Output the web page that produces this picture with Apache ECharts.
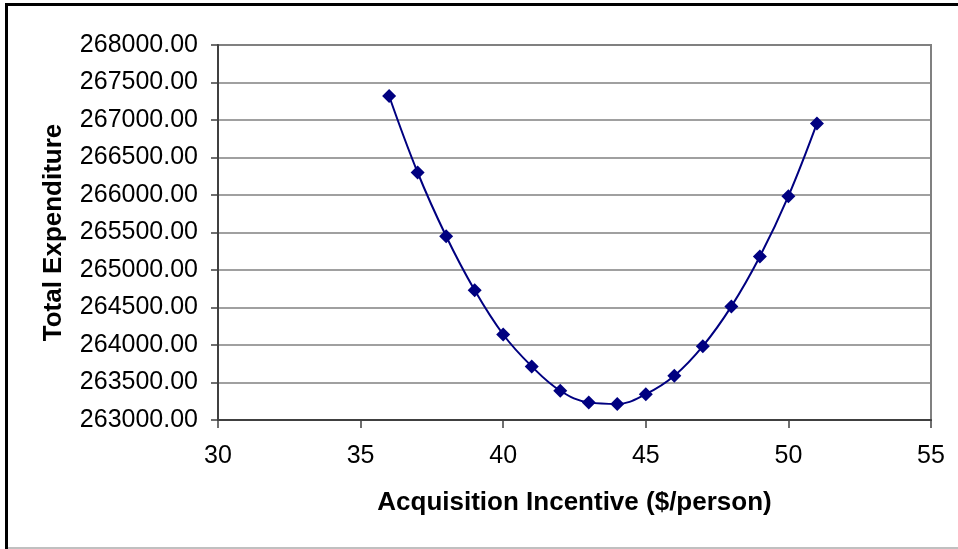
<!DOCTYPE html>
<html>
<head>
<meta charset="utf-8">
<script src="https://cdn.jsdelivr.net/npm/echarts@6/dist/echarts.min.js"></script>
<style>
html,body{margin:0;padding:0;background:#fff;}
#chart{width:958px;height:549px;}
</style>
</head>
<body>
<div id="chart"></div>
<script>
// Data
var incentive = [36, 37, 38, 39, 40, 41, 42, 43, 44, 45, 46, 47, 48, 49, 50, 51];
var expenditure = [267320, 266300, 265450, 264730, 264140, 263715, 263390, 263235, 263215, 263345, 263590, 263985, 264515, 265180, 265985, 266955];
var xTicks = [30, 35, 40, 45, 50, 55];
var yTicks = [263000, 263500, 264000, 264500, 265000, 265500, 266000, 266500, 267000, 267500, 268000];
var xTitle = 'Acquisition Incentive ($/person)';
var yTitle = 'Total Expenditure';

var chart = echarts.init(document.getElementById('chart'), null, {renderer: 'canvas'});
var FONT = '"Liberation Sans", Arial, sans-serif';
var pts = incentive.map(function (x, i) { return [x, expenditure[i]]; });

chart.setOption({
  animation: false,
  backgroundColor: '#ffffff',
  grid: {
    left: 218, right: 27, top: 45, bottom: 129,
    show: true, borderColor: '#808080', borderWidth: 2, backgroundColor: 'transparent'
  },
  xAxis: {
    type: 'value',
    min: xTicks[0], max: xTicks[xTicks.length - 1], interval: 5,
    name: xTitle, nameLocation: 'middle', nameGap: 70,
    nameTextStyle: {fontFamily: FONT, fontSize: 26, fontWeight: 'bold', color: '#000'},
    axisLine: {show: true, onZero: false, lineStyle: {color: '#404040', width: 2}},
    axisTick: {show: true, inside: false, length: 8, lineStyle: {color: '#404040', width: 1.5}},
    axisLabel: {fontFamily: FONT, fontSize: 25, color: '#000', margin: 24},
    splitLine: {show: false}
  },
  yAxis: {
    type: 'value',
    min: yTicks[0], max: yTicks[yTicks.length - 1], interval: 500,
    name: yTitle, nameLocation: 'middle', nameGap: 151,
    nameTextStyle: {fontFamily: FONT, fontSize: 26, fontWeight: 'bold', color: '#000'},
    axisLine: {show: true, onZero: false, lineStyle: {color: '#404040', width: 2}},
    axisTick: {show: true, inside: false, length: 7, lineStyle: {color: '#404040', width: 1.5}},
    axisLabel: {fontFamily: FONT, fontSize: 25, color: '#000', margin: 20,
      formatter: function (v) { return v.toFixed(2); }},
    splitLine: {show: true, lineStyle: {color: '#808080', width: 1.5}}
  },
  series: [{
    type: 'line',
    data: pts,
    smooth: 0.4,
    symbol: 'diamond',
    symbolSize: 14,
    itemStyle: {color: '#000080'},
    lineStyle: {color: '#000080', width: 2}
  }],
  graphic: [
    {type: 'line', shape: {x1: 6.5, y1: 3, x2: 6.5, y2: 549}, style: {stroke: '#000', lineWidth: 3}},
    {type: 'line', shape: {x1: 5, y1: 4.5, x2: 958, y2: 4.5}, style: {stroke: '#000', lineWidth: 3}},
    {type: 'line', shape: {x1: 8, y1: 548, x2: 958, y2: 548}, style: {stroke: '#c0c0c0', lineWidth: 2}}
  ]
});
</script>
</body>
</html>
